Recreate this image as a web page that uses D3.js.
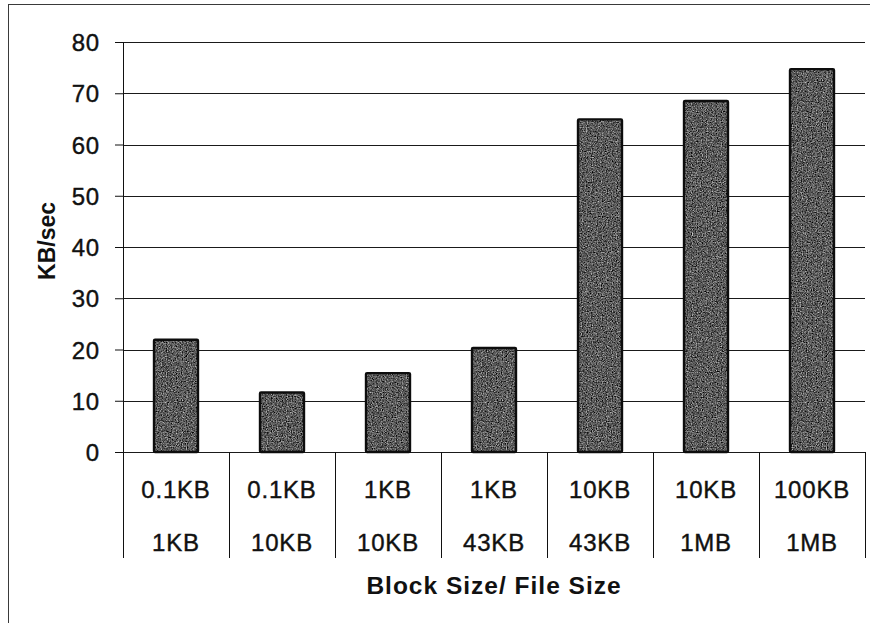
<!DOCTYPE html>
<html>
<head>
<meta charset="utf-8">
<script src="https://cdn.jsdelivr.net/npm/d3@7/dist/d3.min.js"></script>
<style>
  html, body { margin: 0; padding: 0; background: #fff; }
  svg { display: block; font-family: "Liberation Sans", Arial, sans-serif; }
</style>
</head>
<body>
<svg id="chart" width="870" height="623"></svg>
<script>
// Throughput per block size / file size combination
const blockSizes = ["0.1KB", "0.1KB", "1KB", "1KB", "10KB", "10KB", "100KB"];
const fileSizes  = ["1KB", "10KB", "10KB", "43KB", "43KB", "1MB", "1MB"];
const throughput = [21.9, 11.6, 15.4, 20.3, 64.9, 68.5, 74.7];
const yTicks = [0, 10, 20, 30, 40, 50, 60, 70, 80];
const yTitle = "KB/sec";
const xTitle = "Block Size/ File Size";

const svg = d3.select("#chart");
const plot = { left: 123, right: 865, top: 42, bottom: 452 };
const labelBottom = 558;
const ink = "#111";

const categories = blockSizes.map((b, i) => i);

// Outer chart frame
svg.append("rect")
  .attr("x", 8.5).attr("y", 4.5)
  .attr("width", 900).attr("height", 700)
  .attr("fill", "none").attr("stroke", "#3a3a3a").attr("stroke-width", 1);

const y = d3.scaleLinear().domain([0, 80]).range([plot.bottom, plot.top]);
const xCat = d3.scaleBand().domain(categories).range([plot.left, plot.right]).padding(0);
const xBar = d3.scaleBand().domain(categories).range([plot.left, plot.right])
  .paddingInner(0.585).paddingOuter(0.2925);

// Grain texture for the bar fill
const defs = svg.append("defs");
const grain = defs.append("filter").attr("id", "grain")
  .attr("color-interpolation-filters", "sRGB")
  .attr("x", 0).attr("y", 0).attr("width", 1).attr("height", 1);
grain.append("feTurbulence")
  .attr("type", "fractalNoise").attr("baseFrequency", 0.8)
  .attr("numOctaves", 2).attr("seed", 7).attr("result", "noise");
grain.append("feColorMatrix").attr("in", "noise").attr("type", "matrix")
  .attr("values", "0.8 0.8 0 0 -0.45  0.8 0.8 0 0 -0.45  0.8 0.8 0 0 -0.45  0 0 0 0 1")
  .attr("result", "gray");
grain.append("feComposite").attr("in", "gray").attr("in2", "SourceGraphic")
  .attr("operator", "in");

// Horizontal gridlines with y axis ticks
const yAxis = d3.axisLeft(y).tickValues(yTicks).tickSize(8).tickPadding(15).tickFormat(d3.format("d"));
const gy = svg.append("g").attr("transform", `translate(${plot.left},0)`).call(yAxis);
gy.select(".domain").remove();
gy.selectAll(".tick line").attr("stroke", ink).attr("stroke-width", 1);
gy.selectAll(".tick text")
  .attr("fill", ink).attr("stroke", ink).attr("stroke-width", 0.4)
  .style("font-size", "24px").style("letter-spacing", "0.8px")
  .attr("dy", "0.36em");

svg.append("g").selectAll("line").data(yTicks).join("line")
  .attr("x1", plot.left).attr("x2", plot.right)
  .attr("y1", d => Math.round(y(d)) + 0.5).attr("y2", d => Math.round(y(d)) + 0.5)
  .attr("stroke", "#1a1a1a").attr("stroke-width", 1);

// Bars
const bars = svg.append("g");
bars.selectAll("rect.fill").data(throughput).join("rect")
  .attr("class", "fill")
  .attr("x", (d, i) => xBar(i)).attr("width", xBar.bandwidth())
  .attr("y", d => y(d)).attr("height", d => y(0) - y(d))
  .attr("fill", "#555").attr("filter", "url(#grain)");
bars.selectAll("rect.edge").data(throughput).join("rect")
  .attr("class", "edge")
  .attr("x", (d, i) => xBar(i)).attr("width", xBar.bandwidth())
  .attr("y", d => y(d)).attr("height", d => y(0) - y(d))
  .attr("fill", "none").attr("stroke", "#0d0d0d").attr("stroke-width", 2.4)
  .attr("rx", 1);

// Vertical value axis line
svg.append("line")
  .attr("x1", plot.left + 0.5).attr("x2", plot.left + 0.5)
  .attr("y1", plot.top).attr("y2", plot.bottom)
  .attr("stroke", ink).attr("stroke-width", 1);

// Category separators below the axis
const bounds = categories.map(i => xCat(i)).concat([plot.right]);
svg.append("g").selectAll("line").data(bounds).join("line")
  .attr("x1", d => Math.round(d) + 0.5).attr("x2", d => Math.round(d) + 0.5)
  .attr("y1", plot.bottom).attr("y2", labelBottom)
  .attr("stroke", ink).attr("stroke-width", 1);

// Two-row category labels
const labels = svg.append("g")
  .attr("fill", ink).attr("stroke", ink).attr("stroke-width", 0.4)
  .style("font-size", "24px").style("letter-spacing", "0.8px")
  .attr("text-anchor", "middle");
labels.selectAll("text.block").data(blockSizes).join("text")
  .attr("class", "block")
  .attr("x", (d, i) => xCat(i) + xCat.bandwidth() / 2)
  .attr("y", 498).text(d => d);
labels.selectAll("text.file").data(fileSizes).join("text")
  .attr("class", "file")
  .attr("x", (d, i) => xCat(i) + xCat.bandwidth() / 2)
  .attr("y", 551).text(d => d);

// Axis titles
svg.append("text")
  .attr("x", (plot.left + plot.right) / 2).attr("y", 594)
  .attr("text-anchor", "middle").attr("fill", ink)
  .style("font-size", "24.5px").style("font-weight", "bold").style("letter-spacing", "1px")
  .text(xTitle);

svg.append("text")
  .attr("transform", "translate(55,241) rotate(-90)")
  .attr("text-anchor", "middle").attr("fill", ink)
  .style("font-size", "23px").style("font-weight", "bold")
  .text(yTitle);
</script>
</body>
</html>
